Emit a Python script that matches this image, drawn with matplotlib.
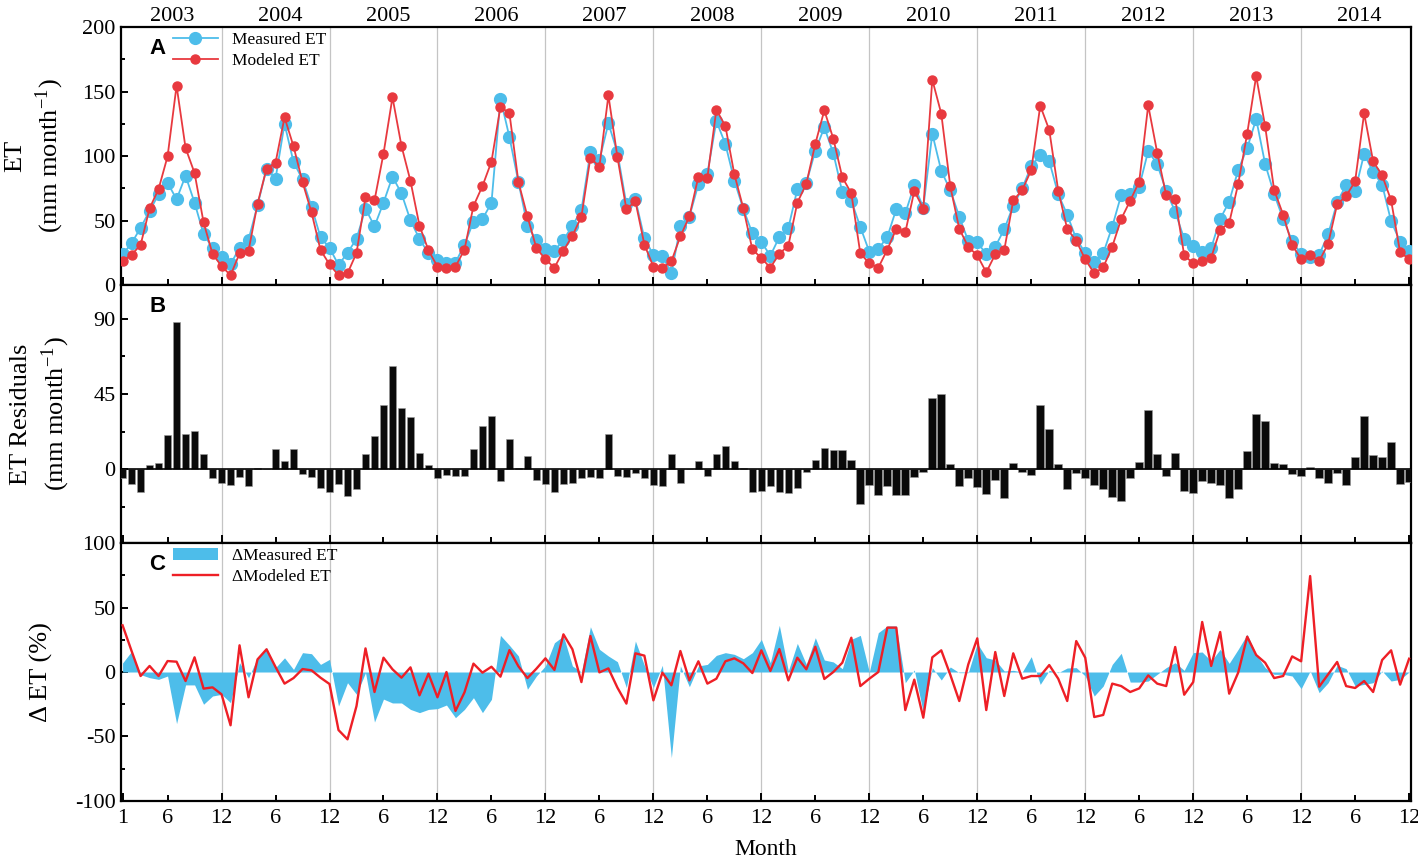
import numpy as np
import matplotlib
matplotlib.use('Agg')
from matplotlib import pyplot as plt
from matplotlib.lines import Line2D
from matplotlib.patches import Patch
from matplotlib.ticker import FixedLocator, FixedFormatter, MultipleLocator

plt.rcParams['font.family'] = ['Liberation Serif', 'DejaVu Serif']
plt.rcParams['mathtext.fontset'] = 'stix'
plt.rcParams['axes.unicode_minus'] = False

years = [str(y) for y in range(2003, 2015)]
months = np.arange(1, 145)

# monthly ET (mm month-1), Jan 2003 .. Dec 2014
measured = [
    23.8, 32.3, 44.4, 57.4, 70.3, 79.3, 66.4, 84.7, 63.8, 39.5, 28.7, 21.7,
    16.0, 28.9, 35.1, 61.8, 90.2, 82.4, 125.0, 95.3, 81.9, 60.7, 37.0, 28.9,
    15.5, 25.0, 35.7, 59.2, 45.5, 63.8, 84.0, 71.0, 50.1, 35.7, 24.5, 19.4,
    16.8, 17.3, 31.3, 49.1, 51.2, 63.6, 144.5, 114.7, 79.8, 46.0, 34.6, 28.2,
    26.6, 34.9, 46.0, 58.1, 103.1, 96.9, 125.3, 102.8, 62.5, 66.4, 36.2, 23.3,
    22.7, 9.0, 45.5, 53.0, 78.0, 86.3, 127.1, 109.3, 80.9, 58.9, 40.0, 33.3,
    22.7, 37.2, 44.2, 74.2, 79.1, 104.1, 122.2, 102.1, 72.1, 65.4, 45.0, 25.8,
    27.9, 37.2, 58.9, 55.6, 77.3, 59.9, 117.3, 88.4, 73.6, 53.0, 34.1, 33.0,
    24.0, 29.7, 43.2, 61.5, 75.0, 92.2, 100.5, 96.1, 70.3, 54.5, 35.7, 25.0,
    17.6, 24.5, 45.2, 69.8, 70.3, 76.2, 103.9, 93.6, 72.9, 56.8, 35.7, 30.2,
    25.3, 28.7, 51.2, 64.6, 89.1, 106.0, 128.7, 93.8, 70.5, 51.2, 33.9, 23.8,
    21.7, 23.3, 39.3, 64.1, 77.5, 72.9, 101.6, 87.6, 77.8, 49.4, 33.6, 26.6]

modeled = [
    18.6, 23.5, 31.0, 59.4, 74.4, 99.7, 154.5, 106.2, 86.8, 48.6, 24.0, 14.7,
    7.5, 24.5, 26.6, 63.0, 90.2, 94.8, 130.0, 107.5, 79.8, 56.3, 27.1, 16.0,
    7.5, 9.0, 24.8, 68.0, 65.6, 101.8, 145.5, 107.8, 80.6, 46.0, 26.9, 14.2,
    13.2, 14.2, 27.4, 61.2, 76.7, 95.6, 138.2, 133.1, 79.8, 53.2, 28.4, 20.0,
    13.4, 26.6, 38.2, 53.0, 98.7, 91.7, 147.0, 99.2, 58.7, 64.9, 31.3, 14.2,
    13.2, 18.4, 37.7, 53.2, 84.0, 83.2, 135.9, 123.3, 85.8, 59.4, 27.6, 20.9,
    13.4, 24.3, 30.5, 63.8, 78.5, 109.5, 135.4, 113.4, 83.5, 71.1, 24.5, 16.8,
    13.4, 27.4, 43.6, 40.8, 72.9, 59.2, 159.2, 132.8, 76.5, 43.6, 29.5, 23.0,
    9.8, 23.8, 27.1, 65.6, 73.6, 89.1, 139.0, 120.2, 73.1, 43.4, 34.3, 19.9,
    9.0, 13.7, 29.7, 51.2, 65.4, 80.1, 139.3, 102.6, 69.5, 66.9, 23.0, 16.8,
    18.6, 21.2, 42.9, 48.1, 78.3, 117.3, 162.0, 123.0, 73.6, 54.5, 31.0, 19.9,
    23.3, 18.4, 32.0, 62.5, 69.0, 80.4, 133.1, 95.9, 85.0, 65.6, 25.3, 20.2]

residuals = [
    -5.4, -8.8, -13.6, 2.8, 4.0, 20.6, 88.2, 21.2, 22.6, 9.2, -5.0, -8.0,
    -9.2, -4.8, -9.8, 0.6, 0.3, 12.4, 5.0, 12.0, -3.0, -4.8, -11.2, -13.8,
    -8.8, -16.2, -11.6, 9.2, 20.0, 38.3, 61.5, 36.5, 31.1, 10.0, 2.4, -5.2,
    -3.2, -4.0, -4.0, 12.2, 25.9, 32.1, -7.2, 18.2, 0.6, 7.8, -6.6, -9.0,
    -13.6, -9.0, -8.4, -5.4, -4.6, -5.4, 21.2, -3.8, -4.4, -2.0, -5.4, -9.6,
    -10.2, 9.2, -8.4, 0.3, 5.2, -3.8, 9.0, 13.8, 5.0, 1.0, -13.4, -13.0,
    -10.0, -13.8, -14.2, -11.2, -1.4, 5.6, 12.8, 11.4, 11.8, 5.6, -21.0, -9.2,
    -15.6, -10.2, -15.6, -15.6, -4.8, -1.4, 42.3, 44.7, 3.0, -9.8, -5.4, -10.8,
    -15.0, -6.6, -17.2, 4.0, -1.8, -3.4, 38.1, 24.0, 3.2, -11.8, -2.0, -5.4,
    -9.2, -11.6, -16.4, -19.0, -5.0, 4.2, 35.3, 9.2, -4.0, 10.0, -13.2, -14.4,
    -7.2, -8.2, -9.2, -17.4, -12.0, 11.0, 33.3, 29.0, 3.6, 3.2, -3.0, -4.2,
    1.2, -5.4, -8.0, -2.4, -9.6, 7.2, 32.1, 8.6, 7.2, 16.2, -8.6, -7.4]

# anomalies (%)
d_measured = [
    7.0, 16.0, -2.0, -4.4, -5.7, -3.1, -40.0, -10.0, -10.0, -25.0, -18.6, -17.3,
    -23.8, 7.2, -4.4, 11.0, 18.9, 3.4, 11.0, 2.0, 15.0, 14.2, 5.9, 9.8,
    -26.4, -8.3, -17.3, -0.5, -38.8, -21.0, -24.0, -24.0, -29.0, -31.5, -29.0, -28.4,
    -25.6, -35.4, -29.0, -19.9, -31.5, -21.2, 28.4, 20.7, 12.4, -13.4, -3.1, 4.7,
    22.7, 27.9, 4.7, 0.0, 35.1, 17.6, 12.4, 8.0, -12.1, 24.0, 5.2, -12.1,
    5.2, -66.4, 4.7, -11.4, 4.7, 5.9, 12.9, 15.0, 13.7, 10.3, 15.0, 25.3,
    7.2, 36.2, 0.8, 22.2, 5.9, 26.6, 9.3, 7.8, 2.6, 25.3, 28.4, 0.0,
    30.5, 35.7, 35.7, -8.3, 1.6, -31.5, 3.4, -6.2, 3.9, -0.5, -0.5, 22.2,
    11.1, 9.3, 0.8, 1.3, 0.0, 11.9, -9.6, 1.3, -0.5, 3.1, 3.4, -3.1,
    -18.6, -10.9, 5.9, 14.5, -7.8, -7.8, -7.0, -1.8, 3.4, 7.2, 1.3, 15.0,
    15.5, 8.5, 17.6, 6.7, 17.6, 29.2, 13.7, 3.4, -1.8, -1.8, -3.1, -12.9,
    0.8, -16.0, -8.3, 5.2, 2.6, -10.9, -9.6, -8.3, 0.8, -7.0, -5.7, 0.0]

d_modeled = [
    36.2, 16.3, -3.1, 4.7, -3.1, 8.5, 8.0, -7.0, 11.4, -12.9, -11.9, -17.3,
    -41.3, 20.7, -19.6, 9.8, 17.6, 3.9, -9.0, -4.7, 2.3, 1.3, -4.4, -9.3,
    -45.0, -52.2, -26.4, 18.3, -15.5, 11.1, 2.1, -4.4, 3.6, -18.1, -1.3, -19.6,
    0.0, -30.2, -15.8, 6.5, -0.5, 4.1, -3.6, 17.0, 4.4, -4.7, 2.6, 10.6,
    1.6, 29.2, 17.6, -7.8, 27.9, -0.3, 2.8, -12.1, -24.5, 14.5, 12.7, -22.0,
    -0.5, -10.3, 16.3, -6.5, 8.3, -9.0, -5.2, 8.3, 10.6, 6.7, -0.8, 16.8,
    0.8, 17.8, -6.5, 11.1, 2.1, 19.6, -5.4, 0.0, 7.2, 26.6, -10.9, -5.2,
    0.0, 34.4, 34.4, -29.5, -5.9, -35.4, 11.4, 16.8, -2.1, -22.5, 5.9, 26.1,
    -29.5, 15.5, -18.6, 14.5, -5.2, -3.1, -3.1, 5.4, -5.2, -22.5, 24.0, 11.1,
    -34.9, -33.3, -9.0, -10.9, -15.5, -12.7, -2.6, -9.0, -10.9, 19.4, -17.6, -7.8,
    38.8, 4.7, 31.0, -16.8, -0.5, 27.4, 13.2, 7.2, -4.7, -3.1, 12.1, 8.3,
    74.4, -11.4, -1.8, 7.8, -10.9, -12.4, -7.0, -15.5, 9.3, 16.8, -9.8, 10.3]

blue = '#4DBDEA'
red = '#E8393F'
red2 = '#EE1F26'

fig = plt.figure(figsize=(14.18, 8.61), dpi=100)
left, width = 0.0855, 0.9095
axA = fig.add_axes([left, 0.669, width, 0.2996])
axB = fig.add_axes([left, 0.3693, width, 0.2997], sharex=axA)
axC = fig.add_axes([left, 0.0697, width, 0.2996], sharex=axA)

axA.plot(months, measured, '-o', color=blue, lw=1.3, ms=8.5, zorder=3)
axA.plot(months, modeled, '-o', color=red, lw=1.3, ms=6.5, zorder=4)
axA.set_ylim(0, 200)
axA.yaxis.set_major_locator(MultipleLocator(50))
axA.yaxis.set_minor_locator(MultipleLocator(25))
axA.set_ylabel('ET\n(mm month$^{\\mathregular{-1}}$)', fontsize=19, linespacing=1.3)
axA.yaxis.set_label_coords(-0.043, 0.5)
hA = [Line2D([], [], color=blue, lw=1.3, marker='o', ms=8.5),
      Line2D([], [], color=red, lw=1.3, marker='o', ms=6.5)]
axA.legend(hA, ['Measured ET', 'Modeled ET'], loc='upper left', bbox_to_anchor=(0.032, 1.02),
           frameon=False, fontsize=12.5, handlelength=2.6, labelspacing=0.25, borderaxespad=0.2)

axB.bar(months, residuals, width=0.85, color='#0a0a0a', edgecolor='#9a9a9a', linewidth=0.4, zorder=3)
axB.axhline(0, color='black', lw=1.2, zorder=4)
axB.set_ylim(-44, 110)
axB.yaxis.set_major_locator(FixedLocator([0, 45, 90]))
axB.yaxis.set_minor_locator(FixedLocator([-22.5, 22.5, 67.5]))
axB.set_ylabel('ET Residuals\n(mm month$^{\\mathregular{-1}}$)', fontsize=19, linespacing=1.3)
axB.yaxis.set_label_coords(-0.038, 0.5)

axC.fill_between(months, 0, d_measured, color=blue, lw=0, zorder=2)
axC.plot(months, d_modeled, color=red2, lw=1.7, zorder=3)
axC.set_ylim(-100, 100)
axC.yaxis.set_major_locator(MultipleLocator(50))
axC.yaxis.set_minor_locator(MultipleLocator(25))
axC.set_ylabel('\u0394 ET (%)', fontsize=19)
axC.yaxis.set_label_coords(-0.053, 0.5)
hC = [Patch(facecolor=blue, edgecolor='none'), Line2D([], [], color=red2, lw=1.7)]
axC.legend(hC, ['\u0394Measured ET', '\u0394Modeled ET'], loc='upper left', bbox_to_anchor=(0.032, 1.02),
           frameon=False, fontsize=12.5, handlelength=2.6, labelspacing=0.25, borderaxespad=0.2)
axC.set_xlabel('Month', fontsize=17, labelpad=8)

major = [1] + list(range(12, 145, 12))
minor = list(range(6, 145, 12))
axA.set_xlim(0.85, 144.2)
axA.xaxis.set_major_locator(FixedLocator(major))
axA.xaxis.set_major_formatter(FixedFormatter([str(m) if m == 1 else '12' for m in major]))
axA.xaxis.set_minor_locator(FixedLocator(minor))
axA.xaxis.set_minor_formatter(FixedFormatter(['6'] * len(minor)))

for ax, letter in zip([axA, axB, axC], ['A', 'B', 'C']):
    for m in range(12, 144, 12):
        ax.axvline(m, color='#c4c4c4', lw=0.9, zorder=1)
    for s in ax.spines.values():
        s.set_linewidth(1.6)
    ax.tick_params(axis='both', which='both', direction='in', width=1.4, labelsize=16)
    ax.tick_params(axis='x', which='major', length=6, pad=6)
    ax.tick_params(axis='x', which='minor', length=4, pad=6)
    ax.tick_params(axis='y', which='major', length=5, pad=4)
    ax.tick_params(axis='y', which='minor', length=3)
    ax.text(0.022, 0.915, letter, transform=ax.transAxes, fontsize=16, fontweight='bold',
            family='Liberation Sans', va='center', ha='left')

for ax in [axA, axB]:
    ax.tick_params(axis='x', which='both', labelbottom=False)

for i, y in enumerate(years):
    axA.text(6.5 + 12 * i, 1.025, y, transform=axA.get_xaxis_transform(), ha='center',
             va='baseline', fontsize=16)

fig.savefig('out.png', dpi=100)
